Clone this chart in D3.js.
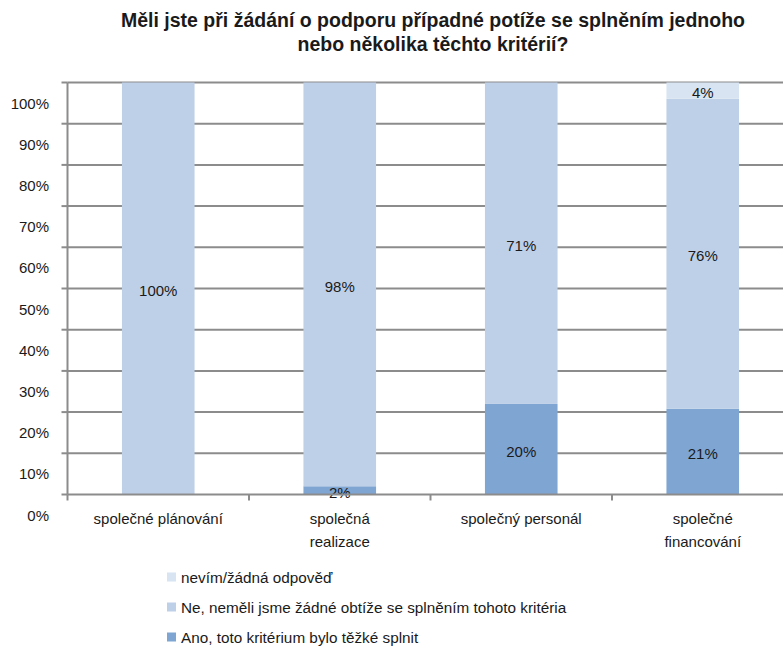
<!DOCTYPE html>
<html>
<head>
<meta charset="utf-8">
<script src="https://cdn.jsdelivr.net/npm/d3@7"></script>
<style>
  body { margin: 0; background: #fff; }
  svg text { font-family: "Liberation Sans", Arial, sans-serif; fill: #1a1a1a; }
</style>
</head>
<body>
<div id="chart"></div>
<script>
// data
var categories = ["společné plánování", "společná\nrealizace", "společný personál", "společné\nfinancování"];
var seriesNames = ["Ano, toto kritérium bylo těžké splnit", "Ne, neměli jsme žádné obtíže se splněním tohoto kritéria", "nevím/žádná odpověď"];
var ano = [0, 2, 20, 21];
var ne = [100, 98, 71, 76];
var nevim = [0, 0, 0, 4];
var yTicks = [0, 10, 20, 30, 40, 50, 60, 70, 80, 90, 100];
var colors = ["#7fa5d2", "#bed0e8", "#d8e4f1"];

var W = 783, H = 651;
var plotLeft = 67.5, plotRight = 793.5, plotTop = 82.5, plotBottom = 494.5;

var svg = d3.select("#chart").append("svg")
  .attr("width", W).attr("height", H);

// title
svg.append("text")
  .attr("x", 433).attr("y", 27)
  .attr("text-anchor", "middle")
  .style("font-size", "19.5px").style("font-weight", "bold")
  .text("Měli jste při žádání o podporu případné potíže se splněním jednoho");
svg.append("text")
  .attr("x", 433).attr("y", 51)
  .attr("text-anchor", "middle")
  .style("font-size", "19.5px").style("font-weight", "bold")
  .text("nebo několika těchto kritérií?");

var rows = categories.map(function(c, i) {
  return {cat: c, s0: ano[i], s1: ne[i], s2: nevim[i]};
});

// 100% stacked, like the original
var stack = d3.stack().keys(["s0", "s1", "s2"]).offset(d3.stackOffsetExpand);
var layers = stack(rows);

var x = d3.scaleBand().domain(categories).range([plotLeft, plotRight]).paddingInner(0.6).paddingOuter(0.3);
var xBand = d3.scaleBand().domain(categories).range([plotLeft, plotRight]);
var y = d3.scaleLinear().domain([0, 1]).range([plotBottom, plotTop]);

// gridlines
svg.append("g").selectAll("line")
  .data(yTicks.slice(1))
  .enter().append("line")
  .attr("x1", plotLeft).attr("x2", plotRight)
  .attr("y1", function(d) { return y(d / 100); })
  .attr("y2", function(d) { return y(d / 100); })
  .attr("stroke", "#8c8c8c").attr("stroke-width", 2);

// bars
var pct = [ano, ne, nevim];
layers.forEach(function(layer, k) {
  var g = svg.append("g");
  g.selectAll("rect")
    .data(layer)
    .enter().append("rect")
    .attr("x", function(d) { return x(d.data.cat); })
    .attr("width", x.bandwidth())
    .attr("y", function(d) { return y(d[1]); })
    .attr("height", function(d) { return y(d[0]) - y(d[1]); })
    .attr("fill", colors[k]);
});
// value labels on top of all bars
layers.forEach(function(layer, k) {
  svg.append("g").selectAll("text")
    .data(layer.filter(function(d, i) { return pct[k][i] > 0; }))
    .enter().append("text")
    .attr("x", function(d) { return x(d.data.cat) + x.bandwidth() / 2; })
    .attr("y", function(d) { return (y(d[0]) + y(d[1])) / 2 + 2; })
    .attr("text-anchor", "middle")
    .attr("dominant-baseline", "central")
    .style("font-size", "15px")
    .text(function(d) { return pct[k][categories.indexOf(d.data.cat)] + "%"; });
});

// y axis
svg.append("line")
  .attr("x1", plotLeft).attr("x2", plotLeft).attr("y1", plotTop).attr("y2", plotBottom)
  .attr("stroke", "#8c8c8c").attr("stroke-width", 2);
svg.append("g").selectAll("line")
  .data(yTicks)
  .enter().append("line")
  .attr("x1", plotLeft - 6).attr("x2", plotLeft)
  .attr("y1", function(d) { return y(d / 100); })
  .attr("y2", function(d) { return y(d / 100); })
  .attr("stroke", "#8c8c8c").attr("stroke-width", 2);
// labels sit half a step below their gridline, as in the original
var half = (y(0) - y(0.1)) / 2;
svg.append("g").selectAll("text")
  .data(yTicks)
  .enter().append("text")
  .attr("x", 49)
  .attr("y", function(d) { return y(d / 100) + half; })
  .attr("text-anchor", "end")
  .attr("dominant-baseline", "central")
  .style("font-size", "15px")
  .text(function(d) { return d + "%"; });

// x axis
svg.append("line")
  .attr("x1", plotLeft).attr("x2", plotRight).attr("y1", plotBottom).attr("y2", plotBottom)
  .attr("stroke", "#8c8c8c").attr("stroke-width", 2);
var bounds = categories.map(function(c) { return xBand(c); }).concat([plotRight]);
svg.append("g").selectAll("line")
  .data(bounds)
  .enter().append("line")
  .attr("x1", function(d) { return d; }).attr("x2", function(d) { return d; })
  .attr("y1", plotBottom).attr("y2", plotBottom + 6)
  .attr("stroke", "#8c8c8c").attr("stroke-width", 2);
var xl = svg.append("g").selectAll("text")
  .data(categories)
  .enter().append("text")
  .attr("x", function(d) { return xBand(d) + xBand.bandwidth() / 2; })
  .attr("y", 524)
  .attr("text-anchor", "middle")
  .style("font-size", "15px");
xl.each(function(d) {
  var t = d3.select(this);
  d.split("\n").forEach(function(line, i) {
    t.append("tspan")
      .attr("x", xBand(d) + xBand.bandwidth() / 2)
      .attr("dy", i === 0 ? 0 : 23)
      .text(line);
  });
});

// legend
var legendOrder = [2, 1, 0];
var lg = svg.append("g").selectAll("g")
  .data(legendOrder)
  .enter().append("g")
  .attr("transform", function(d, i) { return "translate(167," + (577 + i * 30) + ")"; });
lg.append("rect")
  .attr("x", 0).attr("y", -4.5).attr("width", 9).attr("height", 9)
  .attr("fill", function(d) { return colors[d]; });
lg.append("text")
  .attr("x", 14).attr("y", 0)
  .attr("dominant-baseline", "central")
  .style("font-size", "15.3px")
  .text(function(d) { return seriesNames[d]; });
</script>
</body>
</html>
